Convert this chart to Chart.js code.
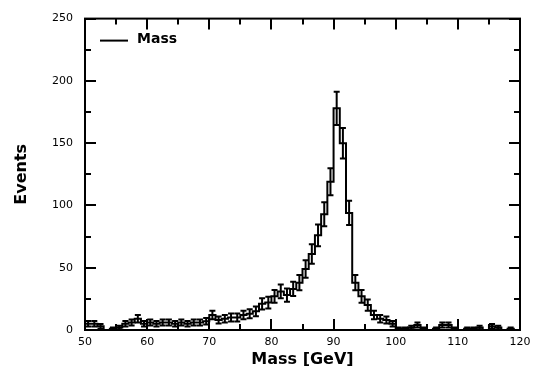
<!DOCTYPE html>
<html><head><meta charset="utf-8">
<script src="https://cdn.jsdelivr.net/npm/chart.js@4.4.1/dist/chart.umd.min.js"></script>
<style>html,body{margin:0;padding:0;background:#fff}#wrap{width:540px;height:379px}</style>
</head><body><div id="wrap"><canvas id="c" width="540" height="379"></canvas></div>
<script>
// bin edges (GeV)
const binEdges = [50,51,52,53,54,55,56,57,58,59,60,61,62,63,64,65,66,67,68,69,
  70,71,72,73,74,75,76,77,78,79,80,81,82,83,84,85,86,87,88,89,
  90,91,92,93,94,95,96,97,98,99,100,101,102,103,104,105,106,107,108,109,
  110,111,112,113,114,115,116,117,118,119,120];
// events per bin
const counts = [5,5,3,0,1,2,5,6,9,5, 6,5,6,6,5,6,5,6,6,7,
  12,8,9,10,10,12,13,15,21,22, 27,31,28,33,38,49,61,76,93,119,
  178,150,94,38,27,20,12,9,8,5, 1,1,2,4,1,0,1,4,4,1,
  0,1,1,2,0,3,2,0,1,0];
const xTicks = [50,60,70,80,90,100,110,120];
const yTicks = [0,50,100,150,200,250];
const xMinor = [55,65,75,85,95,105,115];
const yMinor = [25,75,125,175,225];
const seriesName = 'Mass';

const stepPoints = counts.map((c,i)=>({x:binEdges[i], y:c}));
stepPoints.push({x:binEdges[binEdges.length-1], y:counts[counts.length-1]});

const FONT = 'DejaVu Sans';

const frameTicks = {
  id:'frameTicks',
  afterDraw(chart){
    const {ctx, chartArea:a, scales:{x,y}} = chart;
    ctx.save();
    ctx.strokeStyle='#000'; ctx.lineWidth=2; ctx.lineCap='butt';
    ctx.strokeRect(a.left, a.top, a.right-a.left, a.bottom-a.top);
    const mj=11, mn=6;
    ctx.beginPath();
    const vx=(v,len)=>{const p=Math.round(x.getPixelForValue(v));
      ctx.moveTo(p,a.bottom); ctx.lineTo(p,a.bottom-len);
      ctx.moveTo(p,a.top); ctx.lineTo(p,a.top+len);};
    const vy=(v,len)=>{const p=Math.round(y.getPixelForValue(v));
      ctx.moveTo(a.left,p); ctx.lineTo(a.left+len,p);
      ctx.moveTo(a.right,p); ctx.lineTo(a.right-len,p);};
    xTicks.forEach(v=>vx(v,mj)); xMinor.forEach(v=>vx(v,mn));
    yTicks.forEach(v=>vy(v,mj)); yMinor.forEach(v=>vy(v,mn));
    ctx.stroke();
    // legend
    const ly = a.top + 22;
    ctx.beginPath();
    ctx.moveTo(a.left+15, ly); ctx.lineTo(a.left+43, ly);
    ctx.stroke();
    ctx.fillStyle='#000';
    ctx.font = 'bold 14px "'+FONT+'"';
    ctx.textBaseline='middle'; ctx.textAlign='left';
    ctx.fillText(seriesName, a.left+52, ly-1);
    ctx.restore();
  }
};

const errorBars = {
  id:'errorBars',
  afterDatasetsDraw(chart){
    const {ctx, scales:{x,y}} = chart;
    ctx.save();
    ctx.strokeStyle='#000'; ctx.lineWidth=2;
    ctx.beginPath();
    counts.forEach((c,i)=>{
      if(c<=0) return;
      const e=Math.sqrt(c);
      const cx=x.getPixelForValue((binEdges[i]+binEdges[i+1])/2);
      const y1=y.getPixelForValue(c+e), y0=y.getPixelForValue(Math.max(0,c-e));
      ctx.moveTo(cx,y0); ctx.lineTo(cx,y1);
      ctx.moveTo(cx-3,y1); ctx.lineTo(cx+3,y1);
      ctx.moveTo(cx-3,y0); ctx.lineTo(cx+3,y0);
    });
    ctx.stroke();
    ctx.restore();
  }
};

new Chart(document.getElementById('c'), {
  type:'line',
  data:{datasets:[{label:seriesName, data:stepPoints, stepped:'before', borderColor:'#000',
    backgroundColor:'#000', borderWidth:2, pointRadius:0, fill:false}]},
  options:{
    responsive:false, animation:false, devicePixelRatio:1,
    layout:{padding:{left:12,right:20,top:18,bottom:10}},
    scales:{
      x:{type:'linear', min:50, max:120,
        afterBuildTicks:s=>{s.ticks=xTicks.map(v=>({value:v}));},
        afterFit:s=>{s.height=39;},
        grid:{display:false, drawTicks:false}, border:{display:false},
        ticks:{padding:6, color:'#000', maxRotation:0, font:{family:FONT,size:11}},
        title:{display:true, text:'Mass [GeV]', color:'#000', padding:0,
          font:{family:FONT,size:16,weight:'bold'}}},
      y:{type:'linear', min:0, max:250,
        afterBuildTicks:s=>{s.ticks=yTicks.map(v=>({value:v}));},
        afterFit:s=>{s.width=73;},
        grid:{display:false, drawTicks:false}, border:{display:false},
        ticks:{padding:12, color:'#000', font:{family:FONT,size:11}},
        title:{display:true, text:'Events', color:'#000', padding:0,
          font:{family:FONT,size:16,weight:'bold'}}}
    },
    plugins:{
      legend:{display:false},
      tooltip:{enabled:false}
    }
  },
  plugins:[errorBars, frameTicks]
});
</script></body></html>
